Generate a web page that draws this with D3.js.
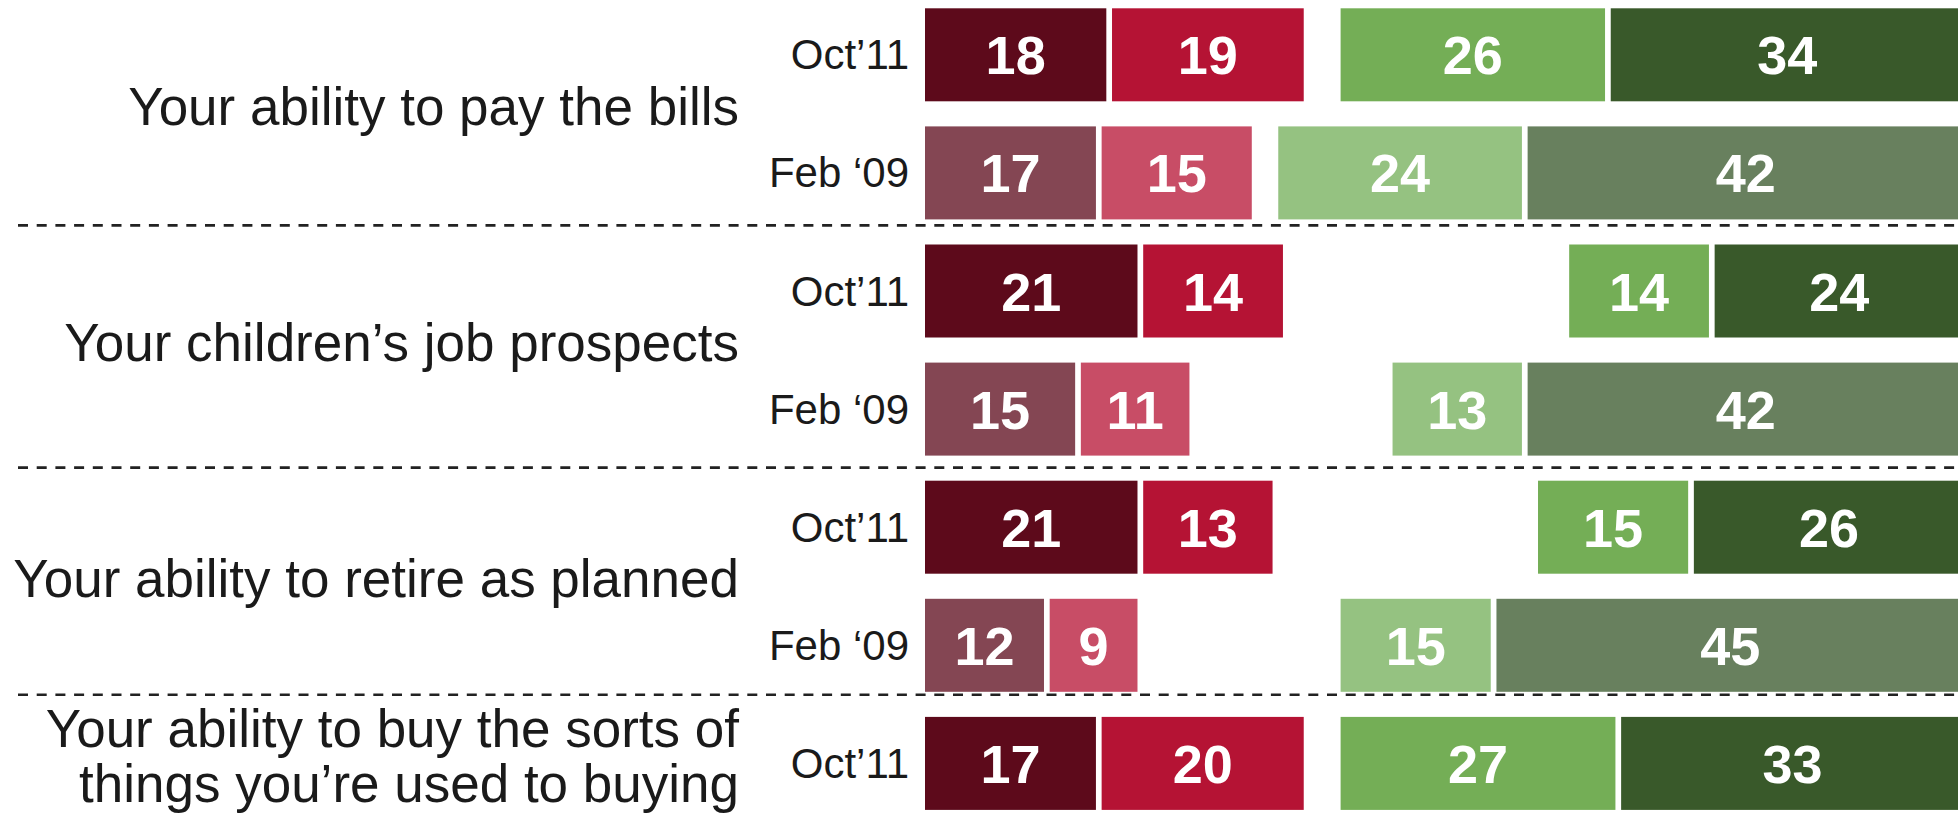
<!DOCTYPE html>
<html>
<head>
<meta charset="utf-8">
<script src="https://cdn.jsdelivr.net/npm/d3@7"></script>
<style>
  body { margin: 0; background: #fff; }
  svg { display: block; }
</style>
</head>
<body>
<div id="chart"></div>
<script>
// Width and height
var chartWidth  = 1958;
var chartHeight = 822;

// Data (one entry per bar row, top to bottom)
var topics = [
    ['Your ability to pay the bills'],
    ['Your children\u2019s job prospects'],
    ['Your ability to retire as planned'],
    ['Your ability to buy the sorts of', 'things you\u2019re used to buying']
];
var rowTopic  = [0, 0, 1, 1, 2, 2, 3];
var rowWave   = ['Oct\u201911', 'Feb \u201809', 'Oct\u201911', 'Feb \u201809', 'Oct\u201911', 'Feb \u201809', 'Oct\u201911'];
var veryNeg   = [18, 17, 21, 15, 21, 12, 17];
var someNeg   = [19, 15, 14, 11, 13,  9, 20];
var somePos   = [26, 24, 14, 13, 15, 15, 27];
var veryPos   = [34, 42, 24, 42, 26, 45, 33];

// colours: [veryNeg, someNeg, somePos, veryPos]
var palette = {
    'Oct\u201911': ['#5d0a1b', '#b51334', '#74ae56', '#39592a'],
    'Feb \u201809': ['#844653', '#c84d66', '#95c281', '#68805e']
};

var font = '"Liberation Sans", Arial, Helvetica, sans-serif';
var gap = 5.7;
var dividerDrop = [6, 12, 3];

var x = d3.scaleLinear().domain([0, 100]).range([925, 1964]);
var y = d3.scaleBand()
    .domain(d3.range(rowWave.length))
    .range([8.3, 809.9])
    .paddingInner(0.2125)
    .paddingOuter(0);
var bw = y.bandwidth();

var svg = d3.select('#chart')
    .append('svg')
    .attr('width', chartWidth)
    .attr('height', chartHeight);

// build segments
var segs = [];
rowWave.forEach(function(wave, i){
    var cols = palette[wave];
    // negatives stack from the left
    var a = veryNeg[i], b = someNeg[i];
    segs.push({row: i, v: a, x0: x(0), x1: x(a) - gap, fill: cols[0]});
    segs.push({row: i, v: b, x0: x(a), x1: x(a + b) - gap, fill: cols[1]});
    // positives stack from the right
    var c = somePos[i], d = veryPos[i];
    segs.push({row: i, v: d, x0: x(100 - d), x1: x(100), fill: cols[3]});
    segs.push({row: i, v: c, x0: x(100 - d - c), x1: x(100 - d) - gap, fill: cols[2]});
});

svg.selectAll('rect.bar')
    .data(segs)
    .enter()
    .append('rect')
    .attr('class', 'bar')
    .attr('x', function(d){ return d.x0; })
    .attr('y', function(d){ return y(d.row); })
    .attr('width', function(d){ return d.x1 - d.x0; })
    .attr('height', bw)
    .attr('fill', function(d){ return d.fill; });

svg.selectAll('text.val')
    .data(segs)
    .enter()
    .append('text')
    .attr('class', 'val')
    .attr('x', function(d){ return (d.x0 + d.x1) / 2; })
    .attr('y', function(d){ return y(d.row) + bw / 2 + 19.5; })
    .attr('text-anchor', 'middle')
    .style('font-family', font)
    .style('font-weight', 'bold')
    .style('font-size', '54px')
    .style('fill', '#fff')
    .text(function(d){ return d.v; });

// wave labels
svg.selectAll('text.wave')
    .data(rowWave)
    .enter()
    .append('text')
    .attr('class', 'wave')
    .attr('x', x(0) - 16)
    .attr('y', function(d, i){ return y(i) + bw / 2 + 14.5; })
    .attr('text-anchor', 'end')
    .style('font-family', font)
    .style('font-size', '42px')
    .style('fill', '#1a1a1a')
    .text(function(d){ return d; });

// topic labels
var topicRows = topics.map(function(t, k){
    return d3.range(rowWave.length).filter(function(i){ return rowTopic[i] === k; });
});

var tl = svg.selectAll('text.topic')
    .data(topics)
    .enter()
    .append('text')
    .attr('class', 'topic')
    .attr('text-anchor', 'end')
    .style('font-family', font)
    .style('font-size', '53px')
    .style('fill', '#1a1a1a')
    .attr('y', function(d, k){
        var rows = topicRows[k];
        var top = y(rows[0]);
        var bottom = y(rows[rows.length - 1]) + bw;
        return (top + bottom) / 2 + 11 - (d.length - 1) * 27.5;
    });

tl.selectAll('tspan')
    .data(function(d){ return d; })
    .enter()
    .append('tspan')
    .attr('x', 739)
    .attr('dy', function(d, j){ return j === 0 ? 0 : 55; })
    .text(function(d){ return d; });

// dashed dividers between topics
var dividers = topicRows.slice(0, -1).map(function(rows, k){
    return y(rows[rows.length - 1]) + bw + dividerDrop[k];
});

svg.selectAll('line.div')
    .data(dividers)
    .enter()
    .append('line')
    .attr('class', 'div')
    .attr('x1', 18)
    .attr('x2', chartWidth)
    .attr('y1', function(d){ return d; })
    .attr('y2', function(d){ return d; })
    .attr('stroke', '#222')
    .attr('stroke-width', 2.6)
    .attr('stroke-dasharray', '10,8.7');
</script>
</body>
</html>
